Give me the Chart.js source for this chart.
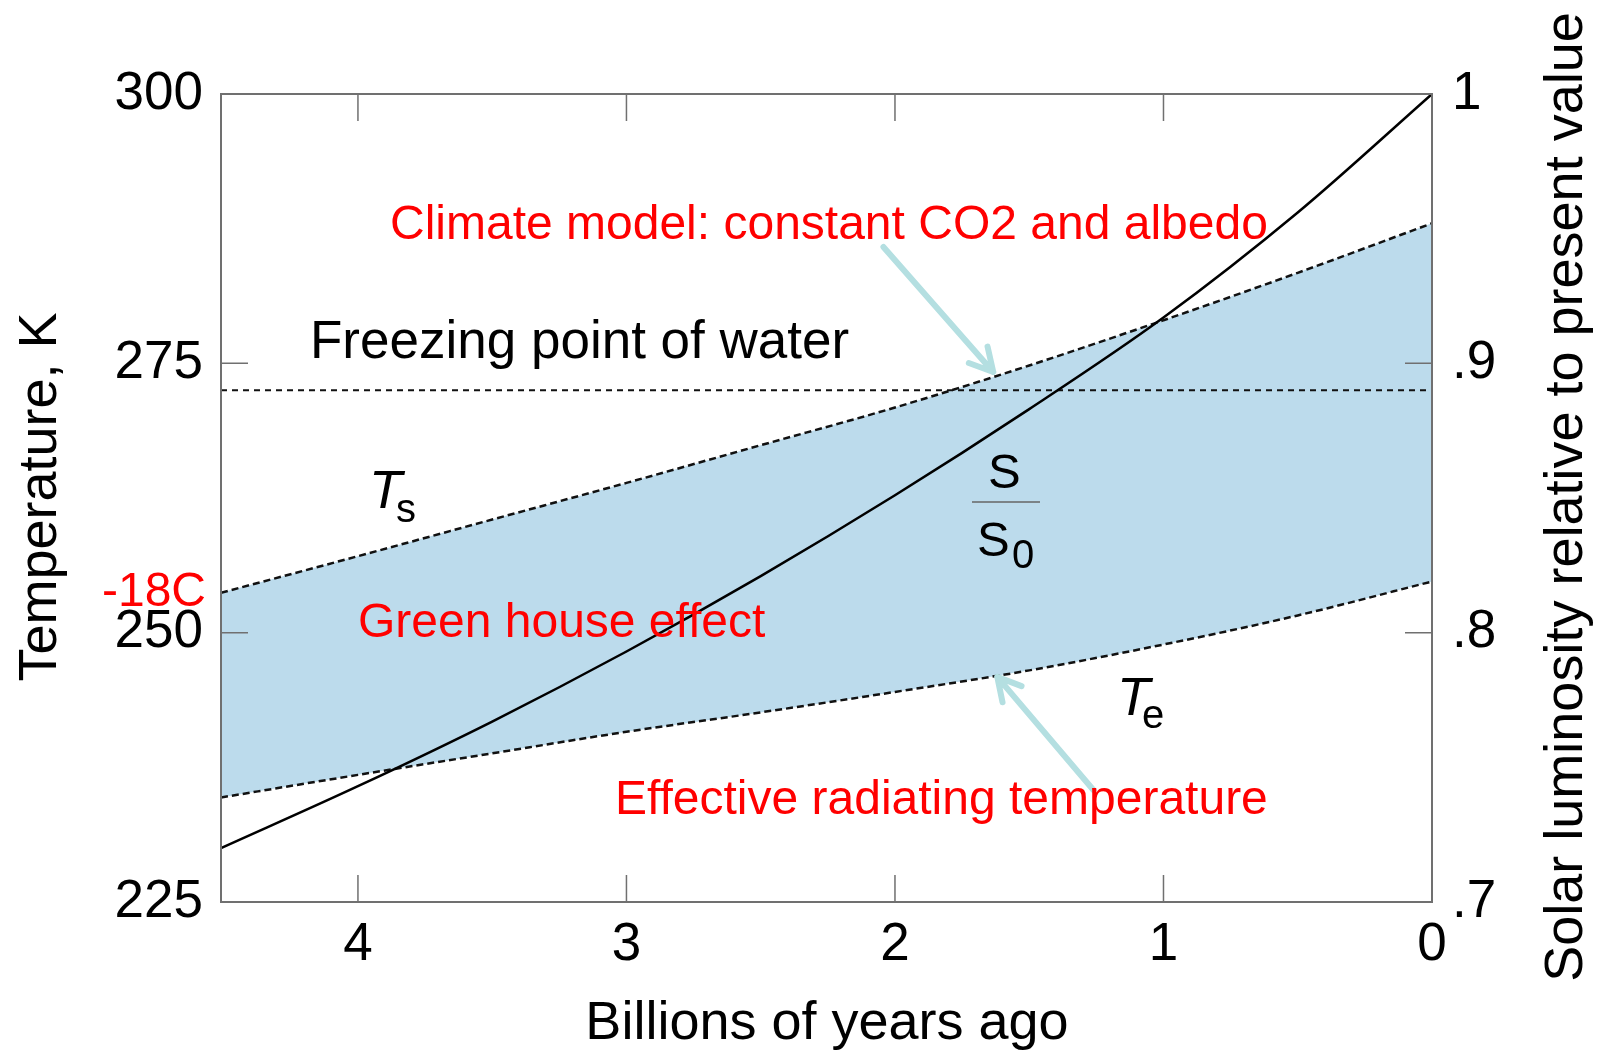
<!DOCTYPE html>
<html>
<head>
<meta charset="utf-8">
<script src="https://cdn.jsdelivr.net/npm/chart.js@4.4.1/dist/chart.umd.min.js"></script>
<style>
  html, body { margin: 0; padding: 0; background: #fff; }
  canvas { display: block; }
</style>
</head>
<body>
<canvas id="chart" width="1606" height="1061"></canvas>
<script>
// Billions of years ago (the left edge of the plot sits near 4.51)
const ages = [4.51, 4, 3.5, 3, 2.5, 2, 1.5, 1, 0.5, 0];
// Surface temperature Ts, K
const surfaceTemp = [253.7, 257.1, 260.5, 263.9, 267.4, 270.9, 274.8, 279.0, 283.4, 288.0];
// Effective radiating temperature Te, K
const effectiveTemp = [234.7, 236.8, 238.8, 240.8, 242.6, 244.5, 246.5, 248.9, 251.6, 254.75];
// Solar luminosity relative to present value, S/S0
const solarRatio = [0.720, 0.743, 0.767, 0.793, 0.821, 0.851, 0.883, 0.917, 0.956, 1.000];
// Freezing point of water, K
const freezingK = 272.5;

// Tick labels
const ageTicks = [4, 3, 2, 1, 0];
const tempTicks = [225, 250, 275, 300];
const lumTicks = [0.7, 0.8, 0.9, 1.0];

const FONT = "'Liberation Sans', Arial, Helvetica, sans-serif";
const RED = '#ff0000';

function points(values) {
    return ages.map((a, i) => ({ x: a, y: values[i] }));
}

function setTicks(list) {
    return scale => { scale.ticks = list.map(v => ({ value: v })); };
}

// Box round the plot and the inward tick marks
const framePlugin = {
    id: 'frame',
    afterDatasetsDraw(chart) {
        const { ctx, chartArea: a, scales } = chart;
        const len = 27;
        ctx.save();
        ctx.strokeStyle = '#707070';
        ctx.lineWidth = 1.5;
        ctx.beginPath();
        scales.x.ticks.forEach(t => {
            const px = scales.x.getPixelForValue(t.value);
            if (px <= a.left + 1 || px >= a.right - 1) return;
            ctx.moveTo(px, a.bottom); ctx.lineTo(px, a.bottom - len);
            ctx.moveTo(px, a.top); ctx.lineTo(px, a.top + len);
        });
        scales.y.ticks.forEach(t => {
            const py = scales.y.getPixelForValue(t.value);
            if (py <= a.top + 1 || py >= a.bottom - 1) return;
            ctx.moveTo(a.left, py); ctx.lineTo(a.left + len, py);
        });
        scales.y2.ticks.forEach(t => {
            const py = scales.y2.getPixelForValue(t.value);
            if (py <= a.top + 1 || py >= a.bottom - 1) return;
            ctx.moveTo(a.right, py); ctx.lineTo(a.right - len, py);
        });
        ctx.stroke();
        ctx.lineWidth = 2;
        ctx.strokeRect(a.left, a.top, a.right - a.left, a.bottom - a.top);
        ctx.restore();
    }
};

function drawArrow(ctx, x1, y1, x2, y2) {
    const ang = Math.atan2(y2 - y1, x2 - x1);
    const head = 26;
    ctx.save();
    ctx.strokeStyle = '#b4dfe1';
    ctx.lineWidth = 6;
    ctx.lineCap = 'round';
    ctx.lineJoin = 'round';
    ctx.beginPath();
    ctx.moveTo(x1, y1);
    ctx.lineTo(x2, y2);
    ctx.moveTo(x2 - head * Math.cos(ang - 0.5), y2 - head * Math.sin(ang - 0.5));
    ctx.lineTo(x2, y2);
    ctx.lineTo(x2 - head * Math.cos(ang + 0.5), y2 - head * Math.sin(ang + 0.5));
    ctx.stroke();
    ctx.restore();
}

// Labels, arrows and axis titles
const notesPlugin = {
    id: 'notes',
    afterDraw(chart) {
        const { ctx, scales } = chart;
        const X = v => scales.x.getPixelForValue(v);
        const Y = v => scales.y.getPixelForValue(v);

        // arrows, given in data units (age, K)
        drawArrow(ctx, X(2.043), Y(285.8), X(1.634), Y(274.2));
        drawArrow(ctx, X(1.261), Y(235.4), X(1.619), Y(245.9));

        ctx.save();
        ctx.textBaseline = 'alphabetic';

        ctx.fillStyle = RED;
        ctx.font = `48px ${FONT}`;
        ctx.textAlign = 'left';
        ctx.fillText('Climate model: constant CO2 and albedo', 390, 239);
        ctx.fillText('Green house effect', 358, 637);
        ctx.fillText('Effective radiating temperature', 615, 814);
        ctx.font = `48px ${FONT}`;
        ctx.textAlign = 'right';
        ctx.fillText('-18C', 206, 606);

        ctx.fillStyle = '#000';
        ctx.textAlign = 'left';
        ctx.font = `53px ${FONT}`;
        ctx.fillText('Freezing point of water', 310, 358);

        // T_s and T_e
        ctx.font = `italic 54px ${FONT}`;
        ctx.fillText('T', 369, 508);
        ctx.fillText('T', 1117, 715);
        ctx.font = `40px ${FONT}`;
        ctx.fillText('s', 396, 522);
        ctx.fillText('e', 1142, 728);

        // S / S0
        ctx.font = `49px ${FONT}`;
        ctx.fillText('S', 988, 488);
        ctx.fillText('S', 977, 556);
        ctx.font = `40px ${FONT}`;
        ctx.fillText('0', 1012, 568);
        ctx.strokeStyle = '#666';
        ctx.lineWidth = 1.5;
        ctx.beginPath();
        ctx.moveTo(972, 502);
        ctx.lineTo(1040, 502);
        ctx.stroke();

        // axis titles
        ctx.font = `54px ${FONT}`;
        ctx.textAlign = 'center';
        ctx.textBaseline = 'middle';
        ctx.fillText('Billions of years ago', 827, 1024);
        ctx.save();
        ctx.translate(41, 497);
        ctx.rotate(-Math.PI / 2);
        ctx.fillText('Temperature, K', 0, 0);
        ctx.restore();
        ctx.save();
        ctx.translate(1567, 497);
        ctx.rotate(-Math.PI / 2);
        ctx.fillText('Solar luminosity relative to present value', 0, 0);
        ctx.restore();

        ctx.restore();
    }
};

const tickFont = { family: FONT, size: 53 };

new Chart(document.getElementById('chart'), {
    type: 'line',
    data: {
        datasets: [
            {
                label: 'S/S0',
                data: points(solarRatio),
                yAxisID: 'y2',
                borderColor: '#000',
                borderWidth: 2.5,
                pointRadius: 0,
                cubicInterpolationMode: 'monotone',
                fill: false
            },
            {
                label: 'Ts',
                data: points(surfaceTemp),
                yAxisID: 'y',
                borderColor: '#111',
                borderWidth: 2.5,
                borderDash: [7, 4],
                pointRadius: 0,
                cubicInterpolationMode: 'monotone',
                fill: '+1',
                backgroundColor: 'rgb(188, 219, 236)'
            },
            {
                label: 'Te',
                data: points(effectiveTemp),
                yAxisID: 'y',
                borderColor: '#111',
                borderWidth: 2.5,
                borderDash: [7, 4],
                pointRadius: 0,
                cubicInterpolationMode: 'monotone',
                fill: false
            },
            {
                label: 'Freezing point',
                data: [{ x: ages[0], y: freezingK }, { x: ages[ages.length - 1], y: freezingK }],
                yAxisID: 'y',
                borderColor: '#111',
                borderWidth: 2,
                borderDash: [6, 5],
                pointRadius: 0,
                fill: false
            }
        ]
    },
    options: {
        responsive: false,
        animation: false,
        devicePixelRatio: 1,
        layout: { padding: { top: 94, left: 0, right: 0, bottom: 0 } },
        plugins: {
            legend: { display: false },
            tooltip: { enabled: false },
            filler: { drawTime: 'beforeDatasetsDraw' }
        },
        scales: {
            x: {
                type: 'linear',
                position: 'bottom',
                reverse: true,
                min: 0,
                max: ages[0],
                afterBuildTicks: setTicks(ageTicks),
                afterFit: s => { s.height = 159; },
                ticks: { font: tickFont, color: '#000', padding: 12, maxRotation: 0, autoSkip: false },
                grid: { display: false, drawTicks: false },
                border: { display: false }
            },
            y: {
                type: 'linear',
                position: 'left',
                min: 225,
                max: 300,
                afterBuildTicks: setTicks(tempTicks),
                afterFit: s => { s.width = 221; },
                ticks: { font: tickFont, color: '#000', padding: 18 },
                grid: { display: false, drawTicks: false },
                border: { display: false }
            },
            y2: {
                type: 'linear',
                position: 'right',
                min: 0.7,
                max: 1.0,
                afterBuildTicks: setTicks(lumTicks),
                afterFit: s => { s.width = 174; },
                ticks: {
                    font: tickFont,
                    color: '#000',
                    padding: 20,
                    callback: v => (v >= 1 ? '1' : v.toFixed(1).replace(/^0/, ''))
                },
                grid: { display: false, drawTicks: false },
                border: { display: false }
            }
        }
    },
    plugins: [framePlugin, notesPlugin]
});
</script>
</body>
</html>
